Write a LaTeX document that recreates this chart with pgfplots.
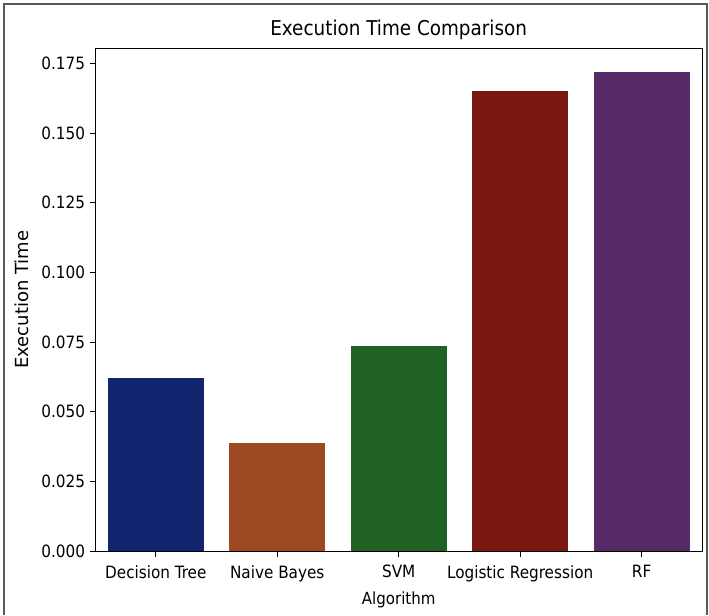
\documentclass[border=0pt]{standalone}
\usepackage{pgfplots}
\pgfplotsset{compat=1.18}
\usepackage{fontspec}
\setmainfont{DejaVu Sans Condensed}
\newfontfamily\ylabfont{DejaVu Sans}

\definecolor{cDT}{RGB}{17,37,111}
\definecolor{cNB}{RGB}{157,74,34}
\definecolor{cSVM}{RGB}{31,98,36}
\definecolor{cLR}{RGB}{122,23,17}
\definecolor{cRF}{RGB}{86,41,103}

\begin{document}
\begin{tikzpicture}
  \begin{axis}[
    scale only axis,
    width=455pt,
    height=377pt,
    xmin=-0.5, xmax=4.5,
    ymin=0, ymax=0.1805,
    xtick={0,1,2,3,4},
    xticklabels={Decision Tree,Naive Bayes,SVM,Logistic Regression,RF},
    ytick={0,0.025,0.05,0.075,0.1,0.125,0.15,0.175},
    yticklabel style={/pgf/number format/.cd,fixed,fixed zerofill,precision=3},
    /pgf/number format/assume math mode=true,
    tick pos=left,
    tick align=outside,
    major tick length=4pt,
    tick style={black, line width=0.6pt},
    axis line style={line width=0.6pt},
    ticklabel style={font=\fontsize{12.7}{14}\selectfont},
    xticklabel style={yshift=-3pt},
    xlabel={Algorithm},
    ylabel={\ylabfont Execution Time},
    xlabel style={font=\fontsize{12.5}{14}\selectfont, yshift=-1pt},
    ylabel style={font=\fontsize{13.5}{15}\selectfont, yshift=2.5pt},
    title={Execution Time Comparison},
    title style={font=\fontsize{15.3}{17}\selectfont, yshift=-3pt},
    ybar, bar width=0.79, bar shift=0pt,
  ]
    \addplot[fill=cDT, draw=none] coordinates {(0,0.0622)};
    \addplot[fill=cNB, draw=none] coordinates {(1,0.0388)};
    \addplot[fill=cSVM, draw=none] coordinates {(2,0.0737)};
    \addplot[fill=cLR, draw=none] coordinates {(3,0.1652)};
    \addplot[fill=cRF, draw=none] coordinates {(4,0.1720)};
  \end{axis}
  \useasboundingbox ([shift={(-71.25pt,-48pt)}]current axis.south west) rectangle ([shift={(5pt,36pt)}]current axis.north east);
  \draw[gray!70!black, line width=1pt]
    ([shift={(-68.25pt,-48pt)}]current axis.south west)
    -- ([shift={(-68.25pt,33pt)}]current axis.north west)
    -- ([shift={(3.5pt,33pt)}]current axis.north east)
    -- ([shift={(3.5pt,-48pt)}]current axis.south east);
\end{tikzpicture}
\end{document}
